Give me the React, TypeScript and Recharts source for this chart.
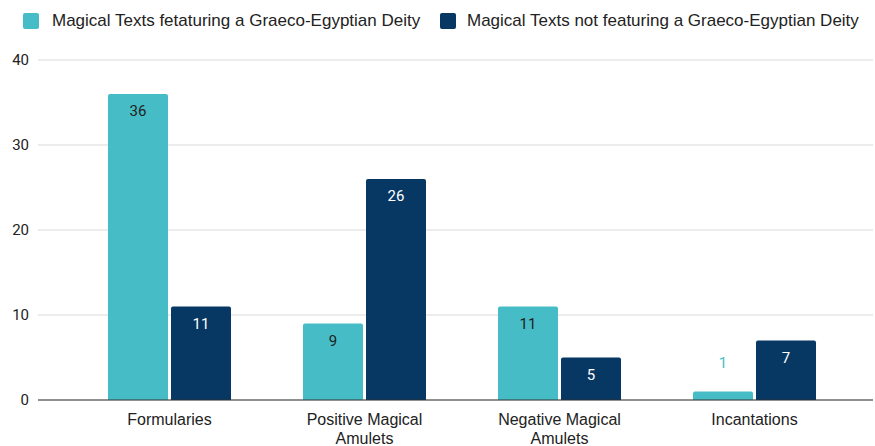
import React from 'react';
import { BarChart, Bar, XAxis, YAxis, CartesianGrid, Legend, LabelList } from 'recharts';

const categories = ['Formularies', 'Positive Magical Amulets', 'Negative Magical Amulets', 'Incantations'];
const withDeity = [36, 9, 11, 1];
const withoutDeity = [11, 26, 5, 7];
const yTicks = [0, 10, 20, 30, 40];

const TEAL = '#46bdc6';
const NAVY = '#073763';
const FONT = 'Roboto, Arial, sans-serif';
const ARIAL = '"Liberation Sans", Arial, sans-serif';

const seriesNames = {
  withDeity: 'Magical Texts fetaturing a Graeco-Egyptian Deity',
  withoutDeity: 'Magical Texts not featuring a Graeco-Egyptian Deity',
};

const data = categories.map((name, i) => ({
  name,
  withDeity: withDeity[i],
  withoutDeity: withoutDeity[i],
}));

if (typeof document !== 'undefined') document.body.style.margin = '0';

// split long category names onto two lines
const CategoryTick = (props: any) => {
  const { x, y, payload } = props;
  const words = String(payload.value).split(' ');
  const lines = words.length > 2 ? [words.slice(0, 2).join(' '), words.slice(2).join(' ')] : [words.join(' ')];
  return (
    <text x={x} y={y} textAnchor="middle" fill="#222" fontSize={16} fontFamily={ARIAL}>
      {lines.map((l, i) => (
        <tspan key={i} x={x} dy={i === 0 ? 17 : 19}>{l}</tspan>
      ))}
    </text>
  );
};

// value label inside the top of the bar, or above it when the bar is too short
const makeLabel = (barColor: string, innerColor: string) => (props: any) => {
  const { x, y, width, height, value } = props;
  const inside = height > 30;
  return (
    <text
      x={x + width / 2}
      y={inside ? y + 22 : y - 24}
      textAnchor="middle"
      fill={inside ? innerColor : barColor}
      fontSize={15}
      fontFamily={FONT}
    >
      {value}
    </text>
  );
};

const legendItems = [
  { label: seriesNames.withDeity, color: TEAL, swatch: 23, text: 52 },
  { label: seriesNames.withoutDeity, color: NAVY, swatch: 440, text: 467 },
];

const LegendContent = () => (
  <div style={{ position: 'relative', height: 44, fontFamily: ARIAL, fontSize: 17, color: '#222' }}>
    {legendItems.map((item) => (
      <React.Fragment key={item.label}>
        <span
          style={{
            position: 'absolute', left: item.swatch, top: 13, width: 16, height: 16,
            background: item.color, borderRadius: 2,
          }}
        />
        <span style={{ position: 'absolute', left: item.text, top: 11, whiteSpace: 'nowrap', lineHeight: '20px' }}>
          {item.label}
        </span>
      </React.Fragment>
    ))}
  </div>
);

export default function App() {
  return (
    <BarChart
      width={875}
      height={446}
      data={data}
      margin={{ top: 16, right: 2, bottom: 0, left: 0 }}
      barCategoryGap={36}
      barGap={3}
    >
      <Legend verticalAlign="top" content={<LegendContent />} wrapperStyle={{ top: 0, left: 0, width: 875 }} />
      <CartesianGrid vertical={false} stroke="#d9d9d9" />
      <XAxis
        dataKey="name"
        interval={0}
        tickLine={false}
        axisLine={{ stroke: '#333' }}
        tick={<CategoryTick />}
        padding={{ left: 34, right: 21 }}
        height={46}
      />
      <YAxis
        domain={[0, 40]}
        ticks={yTicks}
        width={38}
        axisLine={false}
        tickLine={false}
        tickSize={0}
        tickMargin={9}
        tick={{ fill: '#222', fontSize: 15, fontFamily: FONT }}
      />
      <Bar dataKey="withDeity" name={seriesNames.withDeity} fill={TEAL} radius={[2, 2, 0, 0]} isAnimationActive={false}>
        <LabelList dataKey="withDeity" content={makeLabel(TEAL, '#222')} />
      </Bar>
      <Bar dataKey="withoutDeity" name={seriesNames.withoutDeity} fill={NAVY} radius={[2, 2, 0, 0]} isAnimationActive={false}>
        <LabelList dataKey="withoutDeity" content={makeLabel(NAVY, '#fff')} />
      </Bar>
    </BarChart>
  );
}
